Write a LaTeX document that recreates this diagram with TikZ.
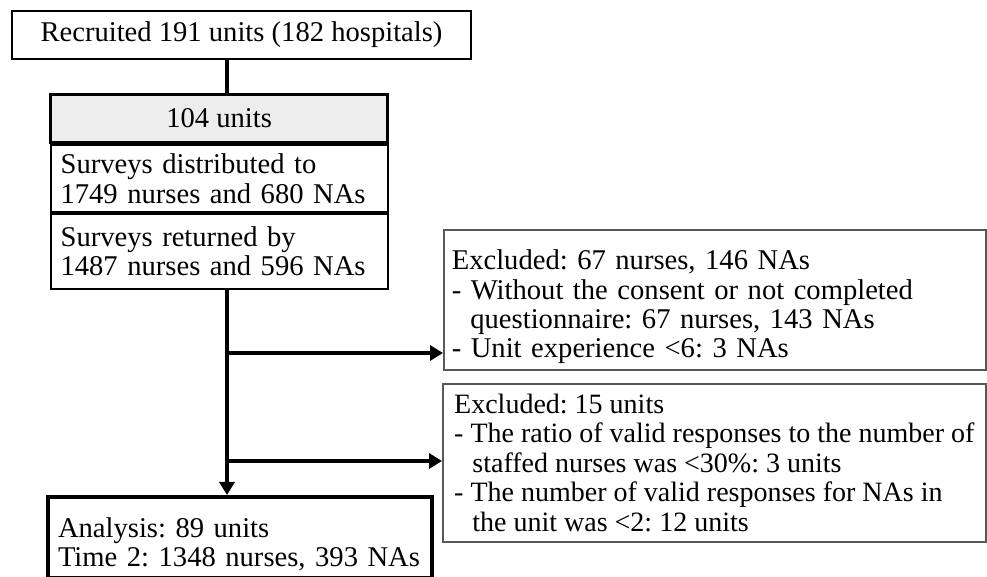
\documentclass[tikz,border=0pt]{standalone}
\usepackage{fontspec}
\setmainfont{Liberation Serif}
\usetikzlibrary{positioning,arrows.meta}
\newcommand{\dropstrut}{\rule{0pt}{17pt}}
\tikzset{
  box/.style={draw, line width=1pt, inner xsep=5pt, inner ysep=0pt,
    font=\fontsize{14.3pt}{14.7pt}\selectfont\frenchspacing},
  headbox/.style={box, fill=black!7, line width=1.6pt, minimum width=168.5pt, minimum height=24pt},
  partbox/.style={box, line width=0.9pt, text width=158.5pt, align=left},
  exbox/.style={box, draw=black!65, line width=0.8pt, inner xsep=4pt, align=left},
  endbox/.style={box, line width=2pt, text width=182pt, align=left},
  flow/.style={line width=1.8pt},
  flowarrow/.style={flow, -{Triangle[length=6.5pt,width=7.5pt]}}
}
\begin{document}
\begin{tikzpicture}[x=0.5pt, y=-0.5pt]
  \useasboundingbox (0,0) rectangle (987,577);
  % boxes
  \node[box, minimum width=229.5pt, minimum height=24pt] (recruit) at (241.5,35) {Recruited 191 units (182 hospitals)};
  \node[headbox, anchor=north west] (units) at (49,93) {104 units};
  \node[partbox, minimum height=33.5pt, below=0pt of units] (sent) {Surveys distributed to\\1749 nurses and 680 NAs};
  \node[partbox, minimum height=37.5pt, below=0pt of sent] (back) {Surveys returned by\\1487 nurses and 596 NAs};
  \node[exbox, text width=263pt, minimum height=70pt, anchor=north west] (excl1) at (443,229)
    {\dropstrut Excluded: 67 nurses, 146 NAs\\
     - Without the consent or not completed\\
     \hspace*{0.65em}questionnaire: 67 nurses, 143 NAs\\
     - Unit experience <6: 3 NAs};
  \node[exbox, font=\fontsize{14pt}{14.7pt}\selectfont\frenchspacing, minimum width=271.5pt, minimum height=79pt, anchor=north west] (excl2) at (442,383)
    {Excluded: 15 units\\
     - The ratio of valid responses to the number of\\
     \hspace*{0.65em}staffed nurses was <30\%: 3 units\\
     - The number of valid responses for NAs in\\
     \hspace*{0.65em}the unit was <2: 12 units};
  \node[endbox, minimum height=40.5pt, anchor=north west] (final) at (46,495)
    {\dropstrut Analysis: 89 units\\Time 2: 1348 nurses, 393 NAs};
  % connectors
  \coordinate (trunk) at (227,0);
  \coordinate (fork1) at (227,353);
  \coordinate (fork2) at (227,461);
  \draw[flow] (recruit.south -| trunk) -- (units.north -| trunk);
  \draw[flowarrow] (back.south -| trunk) -- (final.north -| trunk);
  \draw[flowarrow] (fork1) -- (fork1 -| excl1.west);
  \draw[flowarrow] (fork2) -- (fork2 -| excl2.west);
\end{tikzpicture}
\end{document}
